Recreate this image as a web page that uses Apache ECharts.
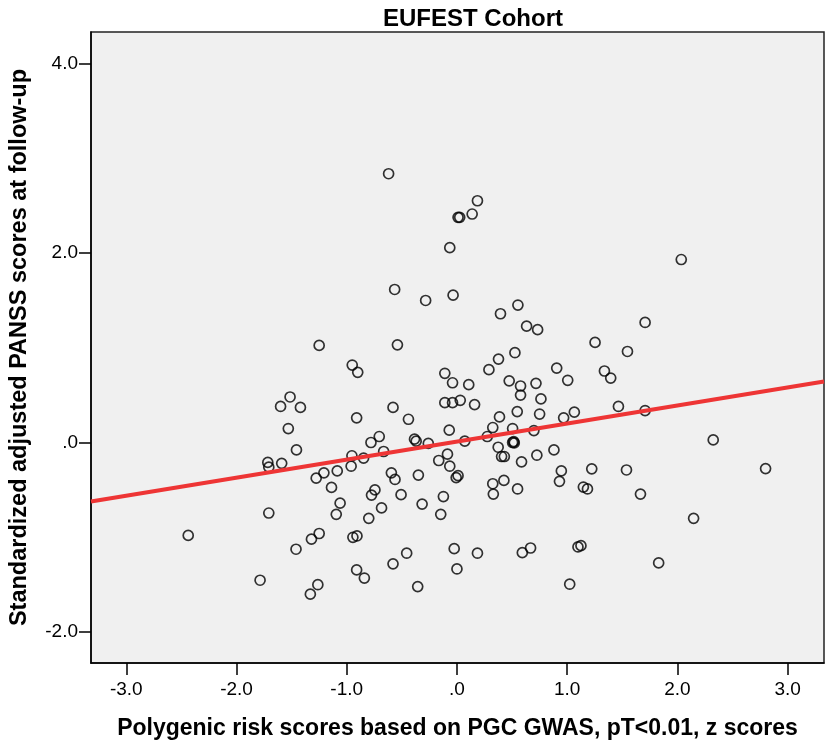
<!DOCTYPE html>
<html>
<head>
<meta charset="utf-8">
<script src="https://cdn.jsdelivr.net/npm/echarts@6/dist/echarts.min.js"></script>
<style>
  html, body { margin: 0; padding: 0; background: #fff; }
  #chart { width: 827px; height: 746px; }
</style>
</head>
<body>
<div id="chart"></div>
<script>
// polygenic risk score (z) per subject
const prsX = [
  -0.62, 0.01, 0.025, 0.138, 0.186, -0.065, -0.565, -0.284, -0.035, -1.25,
  -0.54, -0.95, -0.90, -0.11, -0.04, 0.03, -1.514, -1.60, -1.42, -0.58,
  -0.91, -0.44, -1.53, -0.07, -0.705, -0.78, -0.385, -0.37, -0.26, -1.456,
  -0.953, -0.847, -0.665, -1.716, -1.707, -1.59, -0.96, -0.165, -0.086, -0.065,
  -0.007, 0.01, -1.277, -1.207, -1.086, -0.595, -0.562, -0.35, -1.138, -0.744,
  -0.775, -0.507, -0.123, -1.06, -0.316, -1.707, -1.095, -0.684, -0.147, -0.80,
  -2.438, -1.25, -1.32, -0.944, -0.907, -1.46, -0.456, -0.58, -0.025, 0.0,
  -1.786, -0.91, -0.84, -1.262, -1.33, -0.356, 2.035, 0.553, 0.395, 0.632,
  0.732, 1.707, 1.253, 1.547, 0.526, 0.377, 0.29, 0.905, 1.338, 1.395,
  0.107, 0.474, 0.577, 0.717, 1.005, 0.577, 0.762, 0.16, 0.547, 0.75,
  0.386, 0.968, 1.065, 1.465, 1.707, 0.325, 0.505, 0.698, 0.275, 0.071,
  0.505, 0.52, 0.515, 2.325, 0.374, 0.88, 0.405, 0.43, 0.725, 0.586,
  0.947, 1.223, 1.538, 2.80, 0.93, 0.325, 0.426, 0.33, 0.55, 1.147,
  1.184, 1.665, 2.147, 0.186, 0.593, 0.668, 1.098, 1.125, 1.83, 1.023,
  -0.11, -0.04
];
// standardized adjusted PANSS at follow-up
const panssY = [
  2.835, 2.375, 2.375, 2.41, 2.55, 2.055, 1.614, 1.498, 1.554, 1.024,
  1.03, 0.817, 0.74, 0.73, 0.63, 0.445, 0.48, 0.38, 0.37, 0.37,
  0.26, 0.245, 0.147, 0.13, 0.063, 0.0, 0.035, 0.014, -0.01, -0.078,
  -0.14, -0.165, -0.095, -0.21, -0.26, -0.22, -0.25, -0.19, -0.123, -0.25,
  -0.37, -0.35, -0.376, -0.32, -0.30, -0.32, -0.39, -0.344, -0.474, -0.50,
  -0.555, -0.55, -0.57, -0.64, -0.65, -0.744, -0.758, -0.69, -0.758, -0.80,
  -0.98, -0.96, -1.02, -1.0, -0.986, -1.126, -1.168, -1.28, -1.12, -1.334,
  -1.453, -1.344, -1.43, -1.50, -1.60, -1.52, 1.93, 1.45, 1.358, 1.227,
  1.19, 1.266, 1.056, 0.96, 0.947, 0.88, 0.768, 0.785, 0.754, 0.68,
  0.61, 0.65, 0.596, 0.624, 0.656, 0.50, 0.46, 0.40, 0.326, 0.30,
  0.27, 0.26, 0.32, 0.38, 0.337, 0.158, 0.147, 0.126, 0.063, 0.014,
  0.0, -0.005, 0.01, 0.027, -0.05, -0.078, -0.148, -0.148, -0.134, -0.204,
  -0.30, -0.278, -0.29, -0.275, -0.41, -0.435, -0.40, -0.544, -0.49, -0.47,
  -0.49, -0.544, -0.80, -1.168, -1.162, -1.113, -1.102, -1.088, -1.27, -1.495,
  0.42, 0.42
];

// fit line ends, read at the plot edges
const fitX = [-3.32, 3.33];
const fitY = [-0.623, 0.643];

const xTicks = [-3, -2, -1, 0, 1, 2, 3];
const yTicks = [-2, 0, 2, 4];

const fmt = v => (v === 0 ? '.0' : v.toFixed(1));

const points = prsX.map((x, i) => [x, panssY[i]]);
const fitLine = fitX.map((x, i) => [x, fitY[i]]);

const chart = echarts.init(document.getElementById('chart'));
const font = 'Liberation Sans, Arial, sans-serif';

chart.setOption({
  animation: false,
  textStyle: { fontFamily: font },
  title: {
    text: 'EUFEST Cohort',
    left: 468,
    textAlign: 'center',
    top: 2,
    textStyle: { fontSize: 24, fontWeight: 'bold', color: '#000', fontFamily: font }
  },
  grid: {
    left: 90, right: 3, top: 32, bottom: 83,
    show: true, backgroundColor: '#f0f0f0', borderColor: '#222', borderWidth: 1.5
  },
  xAxis: {
    type: 'value', min: -3.32, max: 3.33,
    name: 'Polygenic risk scores based on PGC GWAS, pT<0.01, z scores',
    nameLocation: 'middle', nameGap: 54,
    nameTextStyle: { fontSize: 23, fontWeight: 'bold', color: '#000' },
    splitLine: { show: false },
    axisLine: { onZero: false, lineStyle: { color: '#000', width: 1.5 } },
    axisTick: { show: true, length: 12, inside: false, customValues: xTicks, lineStyle: { color: '#000', width: 1.5 } },
    axisLabel: { customValues: xTicks, formatter: fmt, fontSize: 19, color: '#000', margin: 17 }
  },
  yAxis: {
    type: 'value', min: -2.326, max: 4.33,
    name: 'Standardized adjusted PANSS scores at follow-up',
    nameLocation: 'middle', nameGap: 59, nameRotate: 90,
    nameTextStyle: { fontSize: 23.5, fontWeight: 'bold', color: '#000' },
    splitLine: { show: false },
    axisLine: { show: true, onZero: false, lineStyle: { color: '#000', width: 1.5 } },
    axisTick: { show: true, length: 12, inside: false, customValues: yTicks, lineStyle: { color: '#000', width: 1.5 } },
    axisLabel: { customValues: yTicks, formatter: fmt, fontSize: 19, color: '#000', margin: 13 }
  },
  series: [
    {
      type: 'scatter',
      data: points,
      symbol: 'circle',
      symbolSize: 10,
      itemStyle: { color: 'rgba(0,0,0,0)', borderColor: '#000', borderWidth: 1.7 },
      z: 2
    },
    {
      type: 'line',
      data: fitLine,
      symbol: 'none',
      lineStyle: { color: '#ee3535', width: 4 },
      z: 3
    }
  ]
});
</script>
</body>
</html>
